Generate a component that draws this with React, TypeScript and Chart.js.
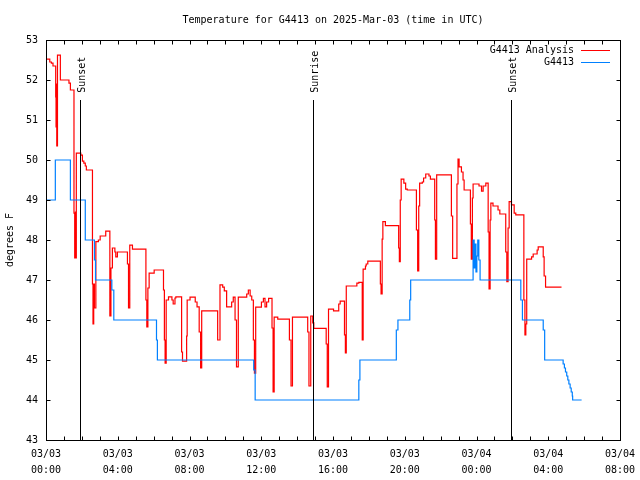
import React, { useEffect, useRef } from 'react';
import { Chart, registerables } from 'chart.js';

Chart.register(...registerables);

const FONT = '"DejaVu Sans Mono", "Liberation Mono", monospace';

const TITLE = 'Temperature for G4413 on 2025-Mar-03 (time in UTC)';
const Y_TITLE = 'degrees F';
const SERIES_NAMES = ['G4413 Analysis', 'G4413'];
const SERIES_COLORS = ['#ff0000', '#0080ff'];

const X_MIN = 0;
const X_MAX = 32;
const X_LABEL_STEP = 4;
const Y_MIN = 43;
const Y_MAX = 53;

const X_TICK_LABELS: string[][] = [
  ['03/03', '00:00'],
  ['03/03', '04:00'],
  ['03/03', '08:00'],
  ['03/03', '12:00'],
  ['03/03', '16:00'],
  ['03/03', '20:00'],
  ['03/04', '00:00'],
  ['03/04', '04:00'],
  ['03/04', '08:00'],
];

// sun events, hours since 03/03 00:00 UTC
const SUN_HOURS = [1.9, 14.88, 25.93];
const SUN_LABELS = ['Sunset', 'Sunrise', 'Sunset'];
const SUN_LINE_TOP = 51.5;
const SUN_LABEL_START = 51.68;

// G4413 Analysis: [hours since 03/03 00:00, deg F] (value holds until next point)
const analysis: [number, number][] = [
  [0, 52.52], [0.21, 52.45], [0.3, 52.42], [0.39, 52.35], [0.54, 51.58], [0.56, 50.83],
  [0.58, 51.9], [0.6, 50.35], [0.64, 52.62], [0.8, 52.0], [1.28, 51.92], [1.36, 51.75],
  [1.56, 48.67], [1.6, 47.55], [1.64, 48.7], [1.67, 47.55], [1.69, 50.17], [1.94, 50.12],
  [2.03, 49.97], [2.11, 49.92], [2.19, 49.85], [2.25, 49.75], [2.59, 46.9], [2.62, 45.9],
  [2.66, 46.9], [2.7, 46.3], [2.78, 47.96], [2.92, 48.0], [3.02, 48.1], [3.33, 48.22],
  [3.56, 46.1], [3.62, 47.3], [3.7, 47.8], [3.84, 47.7], [3.89, 47.58], [3.98, 47.7],
  [4.54, 47.4], [4.6, 46.3], [4.67, 47.87], [4.82, 47.77], [5.57, 46.5], [5.62, 45.83],
  [5.68, 46.8], [5.75, 47.17], [6.03, 47.25], [6.55, 46.75], [6.6, 45.5], [6.64, 44.92],
  [6.7, 46.5], [6.83, 46.58], [7.02, 46.5], [7.09, 46.4], [7.19, 46.55], [7.24, 46.58],
  [7.56, 45.2], [7.61, 44.97], [7.84, 45.6], [7.87, 46.5], [8.03, 46.57], [8.32, 46.45],
  [8.42, 46.33], [8.54, 45.7], [8.62, 44.8], [8.68, 46.23], [9.57, 45.5], [9.7, 46.88],
  [9.85, 46.82], [9.94, 46.73], [10.07, 46.33], [10.35, 46.45], [10.44, 46.57], [10.54, 46.0],
  [10.62, 44.83], [10.72, 46.57], [11.19, 46.65], [11.28, 46.75], [11.38, 46.6], [11.47, 46.5],
  [11.56, 45.5], [11.62, 44.67], [11.69, 46.32], [12.01, 46.45], [12.12, 46.54], [12.21, 46.33],
  [12.3, 46.45], [12.41, 46.54], [12.6, 45.8], [12.66, 44.2], [12.72, 46.07], [12.92, 46.02],
  [13.57, 45.5], [13.66, 44.35], [13.74, 46.07], [14.59, 45.7], [14.66, 44.35], [14.76, 46.1],
  [14.87, 45.93], [14.93, 45.79], [15.62, 45.4], [15.68, 44.33], [15.75, 46.27], [16.03, 46.23],
  [16.32, 46.4], [16.4, 46.47], [16.64, 45.63], [16.69, 45.18], [16.74, 46.85], [17.33, 46.92],
  [17.44, 46.94], [17.63, 45.5], [17.68, 47.27], [17.81, 47.35], [17.85, 47.4], [17.94, 47.47],
  [18.64, 46.9], [18.68, 46.65], [18.74, 48.02], [18.78, 48.46], [18.92, 48.36], [19.66, 47.8],
  [19.7, 47.46], [19.75, 49.0], [19.8, 49.52], [19.95, 49.42], [20.05, 49.27], [20.14, 49.25],
  [20.65, 48.25], [20.72, 47.23], [20.78, 48.85], [20.83, 49.42], [20.98, 49.45], [21.05, 49.55],
  [21.17, 49.65], [21.35, 49.6], [21.43, 49.52], [21.67, 48.5], [21.71, 47.52], [21.78, 49.63],
  [22.6, 48.6], [22.67, 47.54], [22.91, 49.4], [22.97, 50.02], [23.03, 49.83], [23.16, 49.7],
  [23.25, 49.5], [23.31, 49.25], [23.66, 48.4], [23.71, 47.52], [23.77, 49.05], [23.81, 49.4],
  [24.14, 49.35], [24.28, 49.22], [24.37, 49.35], [24.52, 49.42], [24.65, 48.2], [24.7, 46.78],
  [24.76, 48.5], [24.8, 48.92], [24.92, 48.85], [25.2, 48.75], [25.3, 48.65], [25.63, 47.7],
  [25.69, 46.96], [25.76, 48.3], [25.82, 48.96], [25.95, 48.88], [26.1, 48.67], [26.19, 48.63],
  [26.64, 46.5], [26.7, 45.63], [26.75, 45.9], [26.8, 47.52], [27.07, 47.58], [27.16, 47.65],
  [27.38, 47.75], [27.44, 47.83], [27.72, 47.58], [27.77, 47.1], [27.85, 46.82], [28.74, 46.82],
];

// G4413 observations: [hours since 03/03 00:00, deg F]
const observed: [number, number][] = [
  [0, 49], [0.52, 50], [1.36, 49], [2.19, 48], [2.7, 47.5], [2.76, 47], [3.67, 46.75],
  [3.78, 46], [6.16, 45.5], [6.21, 45], [11.58, 44.75], [11.66, 44], [17.44, 44.5],
  [17.5, 45], [19.53, 45.75], [19.62, 46], [20.28, 46.5], [20.33, 47], [23.81, 48],
  [23.87, 47.3], [23.92, 47.9], [23.97, 47.2], [24.02, 47.6], [24.07, 48], [24.13, 47.5],
  [24.2, 47], [26.47, 46.5], [26.56, 46], [27.72, 45.75], [27.8, 45], [28.83, 44.9],
  [28.9, 44.8], [28.96, 44.7], [29.03, 44.6], [29.09, 44.5], [29.15, 44.4], [29.22, 44.3],
  [29.28, 44.2], [29.34, 44.1], [29.36, 44], [29.86, 44],
];

const crisp = (v: number) => Math.round(v) + 0.5;

const decorPlugin = {
  id: 'gnuplotDecor',
  afterDatasetsDraw(chart: any) {
    const { ctx, chartArea: a } = chart;
    const xs = chart.scales.x;
    const ys = chart.scales.y;
    const L = crisp(a.left);
    const R = crisp(a.right);
    const T = crisp(a.top);
    const B = crisp(a.bottom);
    const tick = 4;
    ctx.save();
    ctx.strokeStyle = '#000';
    ctx.lineWidth = 1;
    ctx.beginPath();
    for (let h = X_MIN; h <= X_MAX; h += 1) {
      const px = crisp(xs.getPixelForValue(h));
      ctx.moveTo(px, B);
      ctx.lineTo(px, B - tick);
      ctx.moveTo(px, T);
      ctx.lineTo(px, T + tick);
    }
    for (let v = Y_MIN; v <= Y_MAX; v += 1) {
      const py = crisp(ys.getPixelForValue(v));
      ctx.moveTo(L, py);
      ctx.lineTo(L + tick, py);
      ctx.moveTo(R, py);
      ctx.lineTo(R - tick, py);
    }
    ctx.stroke();
    ctx.strokeRect(L, T, R - L, B - T);

    // sun event lines and labels
    ctx.fillStyle = '#000';
    ctx.font = `10px ${FONT}`;
    SUN_HOURS.forEach((h, i) => {
      const px = crisp(xs.getPixelForValue(h));
      ctx.beginPath();
      ctx.moveTo(px, Math.round(ys.getPixelForValue(SUN_LINE_TOP)));
      ctx.lineTo(px, B);
      ctx.stroke();
      ctx.save();
      ctx.translate(px + 4.5, ys.getPixelForValue(SUN_LABEL_START));
      ctx.rotate(-Math.PI / 2);
      ctx.textAlign = 'left';
      ctx.textBaseline = 'alphabetic';
      ctx.fillText(SUN_LABELS[i], 0, 0);
      ctx.restore();
    });

    // title
    ctx.textAlign = 'center';
    ctx.textBaseline = 'middle';
    ctx.fillText(TITLE, (a.left + a.right) / 2, 20);

    // y title
    ctx.save();
    ctx.translate(10.5, 240);
    ctx.rotate(-Math.PI / 2);
    ctx.textAlign = 'center';
    ctx.textBaseline = 'middle';
    ctx.fillText(Y_TITLE, 0, 0);
    ctx.restore();

    // legend
    SERIES_NAMES.forEach((name, i) => {
      const ly = 50 + i * 12;
      ctx.fillStyle = '#000';
      ctx.textAlign = 'right';
      ctx.textBaseline = 'middle';
      ctx.fillText(name, 574, ly);
      ctx.strokeStyle = SERIES_COLORS[i];
      ctx.beginPath();
      ctx.moveTo(581, ly + 0.5);
      ctx.lineTo(610, ly + 0.5);
      ctx.stroke();
    });
    ctx.restore();
  },
};

export default function App() {
  const ref = useRef<HTMLCanvasElement | null>(null);

  useEffect(() => {
    if (!ref.current) return;
    const chart = new Chart(ref.current, {
      type: 'line',
      data: {
        datasets: [
          {
            label: SERIES_NAMES[1],
            data: observed.map(([x, y]) => ({ x, y })),
            borderColor: SERIES_COLORS[1],
            borderWidth: 1.2,
            pointRadius: 0,
            stepped: true,
            fill: false,
          },
          {
            label: SERIES_NAMES[0],
            data: analysis.map(([x, y]) => ({ x, y })),
            borderColor: SERIES_COLORS[0],
            borderWidth: 1.2,
            pointRadius: 0,
            stepped: true,
            fill: false,
          },
        ],
      },
      options: {
        animation: false,
        responsive: false,
        devicePixelRatio: 1,
        layout: { padding: { top: 40, right: 20, left: 0, bottom: 0 } },
        plugins: {
          legend: { display: false },
          title: { display: false },
          tooltip: { enabled: false },
        },
        scales: {
          x: {
            type: 'linear',
            min: X_MIN,
            max: X_MAX,
            grid: { display: false, drawTicks: false },
            border: { display: false },
            ticks: {
              stepSize: X_LABEL_STEP,
              color: '#000',
              padding: 7,
              maxRotation: 0,
              autoSkip: false,
              font: { family: FONT, size: 10, lineHeight: 1.55 },
              callback: (_v: any, i: number) => X_TICK_LABELS[i],
            },
            afterFit: (s: any) => {
              s.height = 40;
              s.paddingLeft = 0;
              s.paddingRight = 0;
            },
          },
          y: {
            min: Y_MIN,
            max: Y_MAX,
            grid: { display: false, drawTicks: false },
            border: { display: false },
            ticks: {
              stepSize: 1,
              color: '#000',
              padding: 8,
              font: { family: FONT, size: 10 },
            },
            afterFit: (s: any) => {
              s.width = 46;
              s.paddingTop = 0;
              s.paddingBottom = 0;
            },
          },
        },
      },
      plugins: [decorPlugin],
    } as any);
    return () => chart.destroy();
  }, []);

  return (
    <div style={{ position: 'fixed', left: 0, top: 0, width: 640, height: 480, background: '#fff' }}>
      <canvas ref={ref} width={640} height={480} style={{ display: 'block' }} />
    </div>
  );
}
